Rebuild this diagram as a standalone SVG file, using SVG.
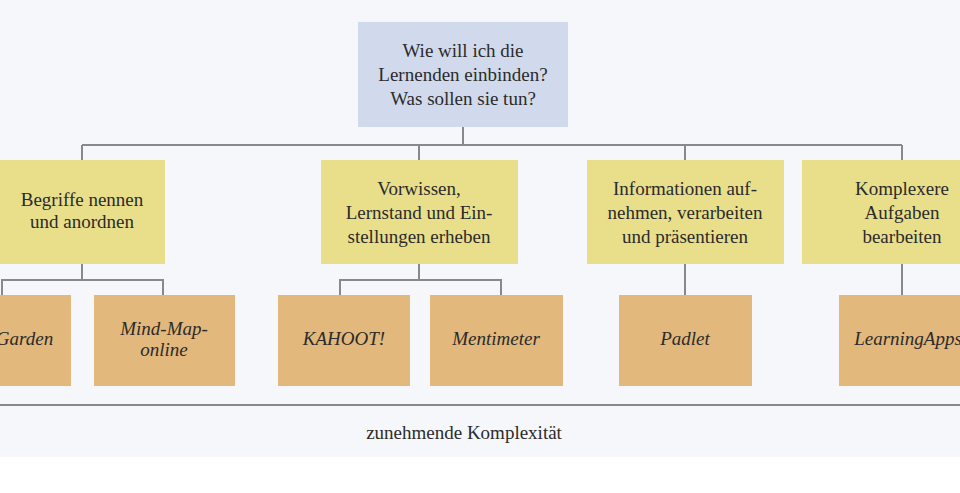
<svg xmlns="http://www.w3.org/2000/svg" width="960" height="493" viewBox="0 0 960 493">
<style>
.t{font-family:"Liberation Serif","DejaVu Serif",serif;font-size:19px;fill:#2b2b2b;text-anchor:middle}
.i{font-style:italic}
.q{fill:#d1daed}.y{fill:#e9df8b}.o{fill:#e3b87c}
.c{stroke:#858a90;stroke-width:2;fill:none}
</style>
<rect x="0" y="0" width="960" height="457" fill="#f6f7fa"/>
<g id="connectors">
<path class="c" d="M463 127V145M82 145H902M82 145V160M419 145V160M685 145V160M902 145V160"/>
<path class="c" d="M82 264V280M2 295V280H163V295M419 264V280M340 295V280H501V295M685 264V295M902 264V295"/>
<path class="c" d="M0 405H960"/>
</g>
<g id="root"><rect class="q" x="358" y="22" width="210" height="105"/>
<text class="t" x="463" y="57">Wie will ich die</text><text class="t" x="463" y="81">Lernenden einbinden?</text><text class="t" x="463" y="105">Was sollen sie tun?</text></g>
<g id="n1"><rect class="y" x="-10" y="160" width="175" height="104"/>
<text class="t" x="82" y="206">Begriffe nennen</text><text class="t" x="82" y="228">und anordnen</text></g>
<g id="n2"><rect class="y" x="321" y="160" width="197" height="104"/>
<text class="t" x="419" y="195">Vorwissen,</text><text class="t" x="419" y="219">Lernstand und Ein-</text><text class="t" x="419" y="243">stellungen erheben</text></g>
<g id="n3"><rect class="y" x="587" y="160" width="197" height="104"/>
<text class="t" x="685" y="195">Informationen auf-</text><text class="t" x="685" y="219">nehmen, verarbeiten</text><text class="t" x="685" y="243">und präsentieren</text></g>
<g id="n4"><rect class="y" x="802" y="160" width="180" height="104"/>
<text class="t" x="902" y="195">Komplexere</text><text class="t" x="902" y="219">Aufgaben</text><text class="t" x="902" y="243">bearbeiten</text></g>
<g id="a"><rect class="o" x="-80" y="295" width="151" height="91"/><text class="t i" x="-4" y="345">AnswerGarden</text></g>
<g id="b"><rect class="o" x="94" y="295" width="141" height="91"/><text class="t i" x="164" y="335">Mind-Map-</text><text class="t i" x="164" y="356">online</text></g>
<g id="c"><rect class="o" x="278" y="295" width="132" height="91"/><text class="t i" x="344" y="345">KAHOOT!</text></g>
<g id="d"><rect class="o" x="430" y="295" width="133" height="91"/><text class="t i" x="496" y="345">Mentimeter</text></g>
<g id="e"><rect class="o" x="619" y="295" width="133" height="91"/><text class="t i" x="685" y="345">Padlet</text></g>
<g id="f"><rect class="o" x="839" y="295" width="150" height="91"/><text class="t i" x="908" y="345">LearningApps</text></g>
<text class="t" x="464" y="439">zunehmende Komplexität</text>
</svg>
